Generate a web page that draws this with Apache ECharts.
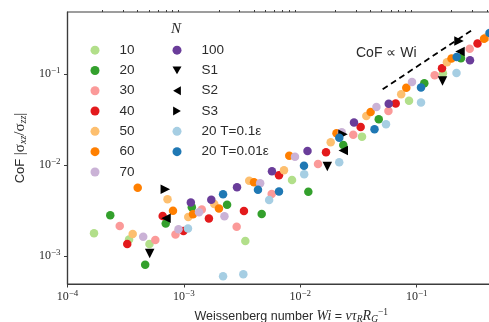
<!DOCTYPE html>
<html>
<head>
<meta charset="utf-8">
<script src="https://cdn.jsdelivr.net/npm/echarts@6/dist/echarts.min.js"></script>
<style>
  html, body { margin: 0; padding: 0; background: #fff; }
  #chart { width: 489px; height: 322px; }
</style>
</head>
<body>
<div id="chart"></div>
<script>
// [Wi, CoF] pairs
const n10 = [[1.69e-4, 1.78e-3], [3.38e-4, 1.52e-3], [5.06e-4, 1.355e-3], [3.37e-3, 1.46e-3], [8.49e-3, 6.84e-3], [0.0339, 0.0205], [0.0859, 0.0508], [0.168, 0.1018]];
const n20 = [[2.33e-4, 2.81e-3], [6.98e-4, 2.28e-3], [4.65e-4, 8.0e-4], [1.17e-3, 3.43e-3], [2.35e-3, 3.66e-3], [4.66e-3, 2.89e-3], [0.01172, 5.09e-3], [0.0234, 0.0166], [0.0472, 0.0319], [0.1162, 0.079], [0.24, 0.1488]];
const n30 = [[2.81e-4, 2.14e-3], [5.68e-4, 1.5e-3], [8.47e-4, 1.72e-3], [1.425e-3, 3.24e-3], [2.84e-3, 2.09e-3], [5.68e-3, 4.8e-3], [0.01419, 0.01026], [0.0285, 0.0215], [0.0572, 0.0392], [0.1427, 0.0968], [0.2853, 0.189]];
const n40 = [[3.26e-4, 1.355e-3], [6.57e-4, 2.75e-3], [9.92e-4, 1.88e-3], [1.64e-3, 2.58e-3], [3.28e-3, 3.12e-3], [6.56e-3, 7.73e-3], [0.01663, 0.01382], [0.033, 0.02616], [0.066, 0.0474], [0.165, 0.1155], [0.333, 0.2163]];
const n50 = [[3.63e-4, 1.745e-3], [7.23e-4, 4.21e-3], [1.09e-3, 2.68e-3], [1.824e-3, 3.73e-3], [3.64e-3, 6.71e-3], [7.24e-3, 8.77e-3], [0.01825, 0.01776], [0.0369, 0.0346], [0.0736, 0.0598], [0.182, 0.1348], [0.394, 0.252]];
const n60 = [[4.01e-4, 5.62e-3], [8.06e-4, 3.15e-3], [1.197e-3, 2.87e-3], [2.0e-3, 3.33e-3], [4.0e-3, 6.45e-3], [8.04e-3, 0.01265], [0.02047, 0.02236], [0.0402, 0.0382], [0.0814, 0.0707], [0.199, 0.148], [0.379, 0.244]];
const n70 = [[4.47e-4, 1.63e-3], [8.99e-4, 1.965e-3], [1.348e-3, 3.03e-3], [2.23e-3, 2.73e-3], [4.52e-3, 6.29e-3], [9.0e-3, 0.01234], [0.0227, 0.02287], [0.0451, 0.0434], [0.0911, 0.0817]];
const n100 = [[1.147e-3, 3.87e-3], [1.719e-3, 4.16e-3], [2.86e-3, 5.7e-3], [5.71e-3, 8.53e-3], [0.01153, 0.01425], [0.02893, 0.0293], [0.0575, 0.0472], [0.287, 0.1418]];
const s1 = [[5.08e-4, 1.065e-3], [0.01706, 9.63e-3], [0.1666, 0.0838]];
const s2 = [[7.02e-4, 2.6e-3], [0.0234, 0.01443], [0.2355, 0.1768]];
const s3 = [[6.92e-4, 5.41e-3], [0.02328, 0.02175], [0.2309, 0.2305]];
const t01 = [[1.084e-3, 2.005e-3], [2.17e-3, 6.0e-4], [3.24e-3, 6.29e-4], [5.4e-3, 4.12e-3], [0.0108, 7.9e-3], [0.0216, 0.0107], [0.0545, 0.0281], [0.1089, 0.0486], [0.2197, 0.1026]];
const t001 = [[2.17e-3, 4.76e-3], [4.33e-3, 5.35e-3], [6.56e-3, 5.11e-3], [0.01076, 9.8e-3], [0.02163, 0.0199], [0.0434, 0.0247], [0.1089, 0.071], [0.2206, 0.1537], [0.422, 0.282]];
const guide = [[0.051, 0.068], [0.306, 0.31]];

const xTicks = [1e-4, 1e-3, 1e-2, 1e-1, 1];
const yTicks = [1e-3, 1e-2, 1e-1];
const xRange = [1e-4, 1];
const yRange = [Math.pow(10, -3.3077), Math.pow(10, -0.3187)];

function minorTicks(lo, hi) {
  const out = [];
  for (let d = -5; d <= 0; d++) {
    for (let k = 2; k <= 9; k++) {
      const v = Number((k * Math.pow(10, d)).toPrecision(3));
      if (v > lo && v < hi) out.push(v);
    }
  }
  return out;
}

const ink = "#2b2b2b";
const frame = "#3c3c3c";

const triDown = "path://M0,0 L10,0 L5,8.66 Z";
const triLeft = "path://M8.66,0 L8.66,10 L0,5 Z";
const triRight = "path://M0,0 L0,10 L8.66,5 Z";

const tickRich = {
  b: { fontFamily: "Liberation Serif", fontSize: 12, color: ink },
  s: { fontFamily: "Liberation Serif", fontSize: 9, color: ink, padding: [0, 0, 7, 0] },
};
function powLabel(val) {
  const e = Math.round(Math.log10(val));
  return "{b|10}{s|" + (e < 0 ? "\u2212" : "") + Math.abs(e) + "}";
}

const dot = [
  { name: "10", data: n10, color: "#b2df8a" },
  { name: "20", data: n20, color: "#33a02c" },
  { name: "30", data: n30, color: "#fb9a99" },
  { name: "40", data: n40, color: "#e31a1c" },
  { name: "50", data: n50, color: "#fdbf6f" },
  { name: "60", data: n60, color: "#ff7f00" },
  { name: "70", data: n70, color: "#cab2d6" },
  { name: "100", data: n100, color: "#6a3d9a" },
  { name: "S1", data: s1, color: "#000", symbol: triDown, symbolSize: 9.5 },
  { name: "S2", data: s2, color: "#000", symbol: triLeft, symbolSize: 9.5 },
  { name: "S3", data: s3, color: "#000", symbol: triRight, symbolSize: 9.5 },
  { name: "20 T=0.1\u03b5", data: t01, color: "#a6cee3" },
  { name: "20 T=0.01\u03b5", data: t001, color: "#1f78b4" },
];

const legendText = {
  fontFamily: "Liberation Sans",
  fontSize: 13.5,
  color: ink,
  lineHeight: 14.3,
  padding: [0, 0, 0, 15],
};

const myChart = echarts.init(document.getElementById("chart"));
myChart.setOption({
  animation: false,
  title: {
    text: "N",
    left: 171,
    top: 22,
    padding: 0,
    textStyle: { fontFamily: "Liberation Serif", fontStyle: "italic", fontWeight: "normal", fontSize: 15, color: ink },
  },
  legend: [
    {
      data: ["10", "20", "30", "40", "50", "60", "70"],
      orient: "vertical",
      left: 90.5,
      top: 43,
      padding: 0,
      itemWidth: 9,
      itemHeight: 9,
      itemGap: 6,
      selectedMode: false,
      textStyle: legendText,
    },
    {
      data: ["100", "S1", "S2", "S3", "20 T=0.1\u03b5", "20 T=0.01\u03b5"],
      orient: "vertical",
      left: 172.5,
      top: 43,
      padding: 0,
      itemWidth: 9,
      itemHeight: 9,
      itemGap: 6,
      selectedMode: false,
      textStyle: legendText,
    },
  ],
  grid: {
    left: 67.5,
    top: 12,
    width: 465.6,
    height: 272,
    show: true,
    borderColor: frame,
    borderWidth: 1.2,
    containLabel: false,
    outerBoundsMode: "none",
  },
  xAxis: [
    {
      type: "log",
      min: xRange[0],
      max: xRange[1],
      name: "{t|Weissenberg number }{i|Wi}{t| = }{i|v\u03c4}{sb|R}{i|R}{sb|G}{sp|\u22121}",
      nameLocation: "middle",
      nameGap: 19,
      nameTextStyle: {
        padding: [0, 18, 0, 0],
        rich: {
          t: { fontFamily: "Liberation Sans", fontSize: 12.5, color: ink },
          i: { fontFamily: "Liberation Serif", fontStyle: "italic", fontSize: 14, color: ink },
          sb: { fontFamily: "Liberation Serif", fontStyle: "italic", fontSize: 9.5, color: ink, padding: [6, 0, 0, 0] },
          sp: { fontFamily: "Liberation Serif", fontSize: 9.5, color: ink, padding: [0, 0, 7, 0] },
        },
      },
      axisLine: { lineStyle: { color: frame, width: 1.2 } },
      axisTick: { customValues: xTicks, length: 3.5, lineStyle: { color: frame } },
      axisLabel: { customValues: xTicks.slice(0, 4), margin: 5, formatter: powLabel, rich: tickRich },
      splitLine: { show: false },
    },
    {
      type: "log",
      min: xRange[0],
      max: xRange[1],
      axisLine: { show: false },
      axisTick: { customValues: minorTicks(xRange[0], xRange[1]), length: 2, lineStyle: { color: frame } },
      axisLabel: { show: false },
      splitLine: { show: false },
    },
  ],
  yAxis: [
    {
      type: "log",
      min: yRange[0],
      max: yRange[1],
      name: "{t|CoF }{m||\u03c3}{sb|xz}{m|/\u03c3}{sb|zz}{m||}",
      nameLocation: "middle",
      nameGap: 37,
      nameTextStyle: {
        rich: {
          t: { fontFamily: "Liberation Sans", fontSize: 13, color: ink },
          m: { fontFamily: "Liberation Serif", fontSize: 15, color: ink },
          sb: { fontFamily: "Liberation Serif", fontStyle: "italic", fontSize: 10, color: ink, padding: [6, 0, 0, 0] },
        },
      },
      axisLine: { lineStyle: { color: frame, width: 1.2 } },
      axisTick: { customValues: yTicks, length: 3.5, lineStyle: { color: frame } },
      axisLabel: { customValues: yTicks, margin: 7, formatter: powLabel, rich: tickRich },
      splitLine: { show: false },
    },
    {
      type: "log",
      min: yRange[0],
      max: yRange[1],
      axisLine: { show: false },
      axisTick: { customValues: minorTicks(yRange[0], yRange[1]), length: 2, lineStyle: { color: frame } },
      axisLabel: { show: false },
      splitLine: { show: false },
    },
  ],
  graphic: [
    {
      type: "text",
      left: 356,
      top: 46,
      style: { text: "CoF \u221d Wi", font: '14px "Liberation Sans"', fill: ink },
    },
  ],
  series: [
    {
      name: "guide",
      type: "line",
      data: guide,
      symbol: "none",
      silent: true,
      lineStyle: { color: "#000", width: 1.8, type: [6, 4] },
    },
  ].concat(
    dot.map((s) => ({
      name: s.name,
      type: "scatter",
      data: s.data,
      symbol: s.symbol || "circle",
      symbolSize: s.symbolSize || 8.5,
      itemStyle: { color: s.color, opacity: 1 },
    }))
  ),
});
</script>
</body>
</html>
